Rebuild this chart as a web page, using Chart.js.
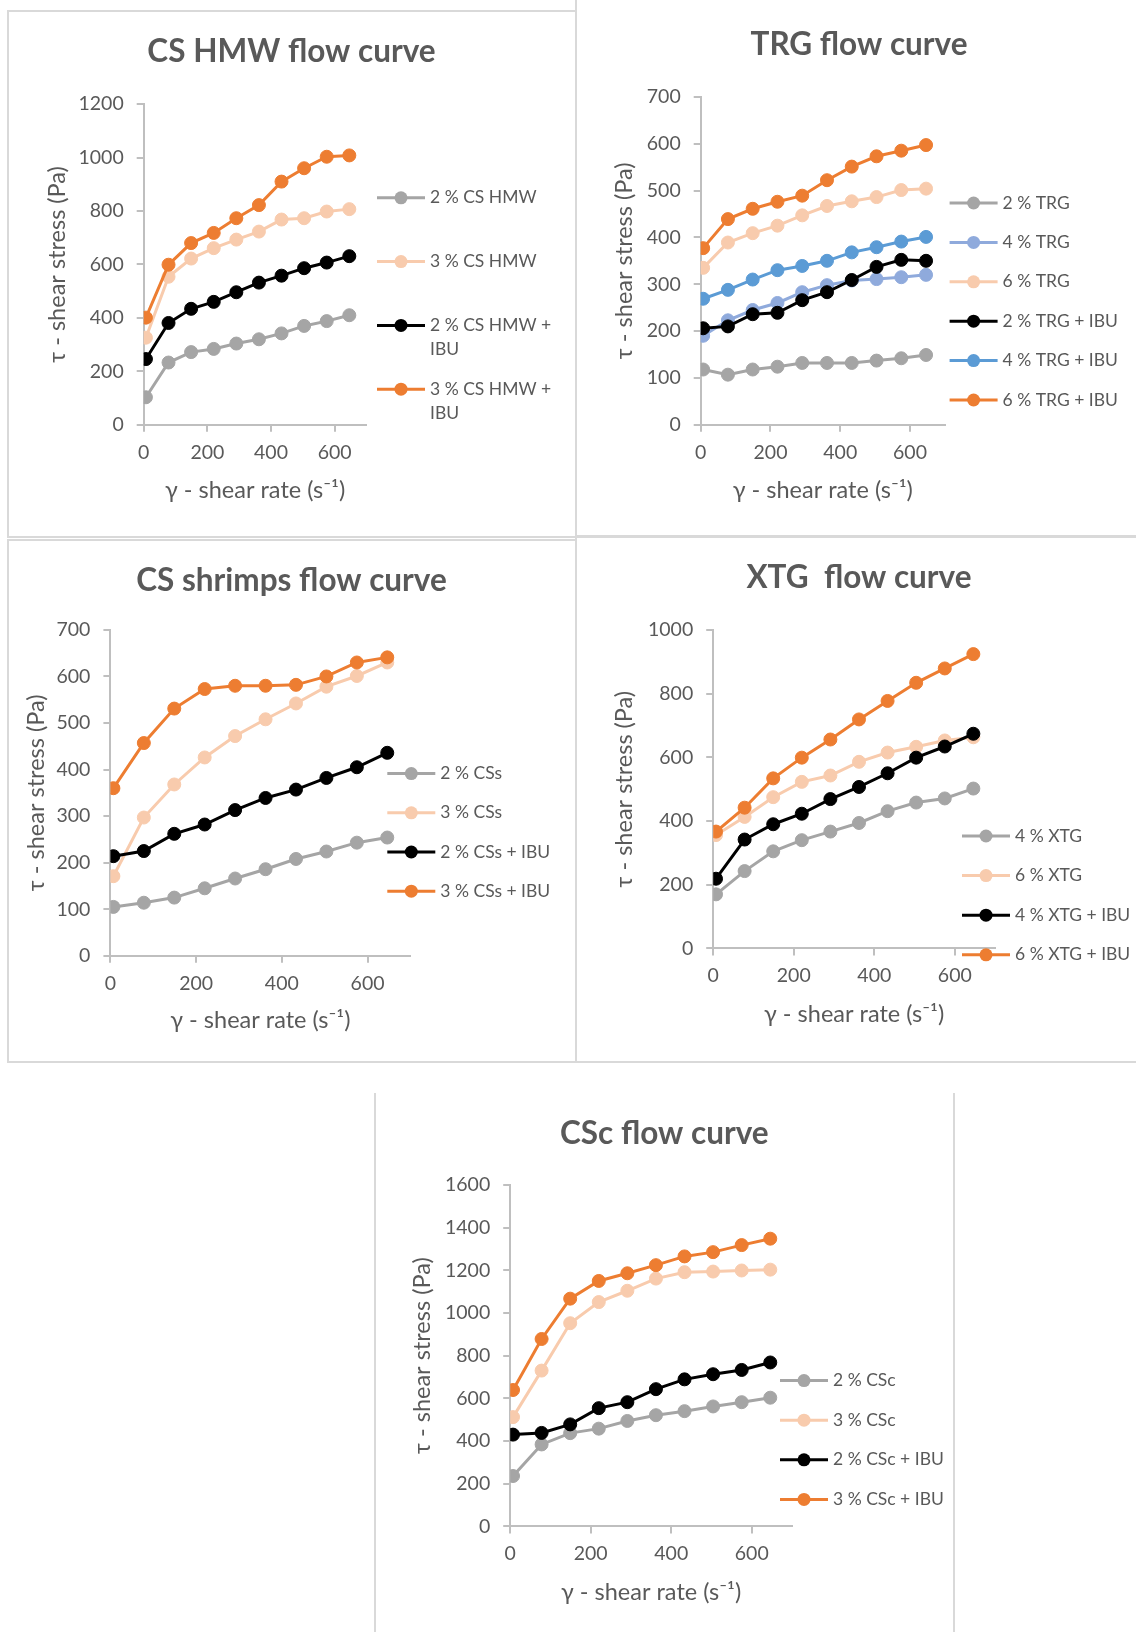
<!DOCTYPE html>
<html>
<head>
<meta charset="utf-8">
<title>Flow curves</title>
<script src="https://cdn.jsdelivr.net/npm/chart.js@4.4.1/dist/chart.umd.min.js"></script>
<style>
  html, body { margin: 0; padding: 0; background: #fff; }
  body { width: 1136px; height: 1632px; position: relative; overflow: hidden; }
  .frame { position: absolute; border: 2px solid #D9D9D9; box-sizing: border-box; }
  canvas { position: absolute; left: 0; top: 0; }
</style>
</head>
<body>
<div class="frame" style="left:7px;top:10px;width:570px;height:528px"></div>
<div class="frame" style="left:575px;top:-4px;width:570px;height:541px"></div>
<div class="frame" style="left:7px;top:539px;width:570px;height:524px"></div>
<div class="frame" style="left:575px;top:536px;width:570px;height:527px"></div>
<div class="frame" style="left:374px;top:1093px;width:581px;height:560px;border-top:none"></div>

<canvas id="cHmw" width="1136" height="1632"></canvas>
<canvas id="cTrg" width="1136" height="1632"></canvas>
<canvas id="cShrimp" width="1136" height="1632"></canvas>
<canvas id="cXtg" width="1136" height="1632"></canvas>
<canvas id="cCsc" width="1136" height="1632"></canvas>

<script>
// shear rate (s-1), same for every curve
var shearRate = [7, 78, 149, 220, 291, 362, 433, 504, 575, 646]
var shearTicks = [0, 200, 400, 600]
var shearMax = 700

// CS HMW
var hmwNames = ["2 % CS HMW", "3 % CS HMW", "2 % CS HMW + IBU", "3 % CS HMW + IBU"]
var hmw2 = [103, 233, 272, 284, 304, 320, 342, 370, 388, 410]
var hmw3 = [326, 554, 622, 661, 693, 723, 768, 773, 798, 807]
var hmw2Ibu = [246, 381, 434, 460, 496, 532, 558, 586, 607, 631]
var hmw3Ibu = [401, 599, 680, 718, 773, 822, 910, 960, 1003, 1008]
var hmwTicks = [0, 200, 400, 600, 800, 1000, 1200]

// TRG
var trgNames = ["2 % TRG", "4 % TRG", "6 % TRG", "2 % TRG + IBU", "4 % TRG + IBU", "6 % TRG + IBU"]
var trg2 = [118, 107, 118, 124, 132, 132, 132, 137, 142, 149]
var trg4 = [190, 223, 245, 260, 283, 298, 308, 311, 315, 320]
var trg6 = [335, 389, 409, 425, 447, 467, 477, 486, 501, 504]
var trg2Ibu = [206, 210, 236, 239, 266, 283, 309, 337, 352, 350]
var trg4Ibu = [269, 288, 310, 330, 339, 350, 368, 379, 391, 401]
var trg6Ibu = [377, 439, 461, 476, 489, 522, 551, 573, 585, 597]
var trgTicks = [0, 100, 200, 300, 400, 500, 600, 700]

// CS shrimps
var cssNames = ["2 % CSs", "3 % CSs", "2 % CSs + IBU", "3 % CSs + IBU"]
var css2 = [105, 114, 125, 145, 166, 186, 208, 224, 243, 254]
var css3 = [171, 297, 368, 426, 472, 508, 542, 578, 601, 630]
var css2Ibu = [214, 225, 262, 282, 313, 339, 357, 382, 405, 436]
var css3Ibu = [360, 457, 531, 573, 580, 580, 582, 600, 630, 641]
var cssTicks = [0, 100, 200, 300, 400, 500, 600, 700]

// XTG
var xtgNames = ["4 % XTG", "6 % XTG", "4 % XTG + IBU", "6 % XTG + IBU"]
var xtg4 = [170, 243, 305, 340, 367, 394, 431, 458, 471, 502]
var xtg6 = [356, 413, 475, 523, 543, 586, 615, 633, 653, 663]
var xtg4Ibu = [219, 342, 390, 423, 469, 507, 550, 599, 634, 674]
var xtg6Ibu = [367, 442, 534, 599, 656, 719, 777, 834, 879, 924]
var xtgTicks = [0, 200, 400, 600, 800, 1000]

// CSc
var cscNames = ["2 % CSc", "3 % CSc", "2 % CSc + IBU", "3 % CSc + IBU"]
var csc2 = [236, 384, 437, 458, 494, 521, 540, 562, 582, 603]
var csc3 = [512, 730, 952, 1051, 1104, 1161, 1191, 1194, 1199, 1203]
var csc2Ibu = [430, 438, 478, 554, 582, 643, 689, 713, 733, 768]
var csc3Ibu = [639, 878, 1067, 1150, 1186, 1224, 1265, 1285, 1318, 1348]
var cscTicks = [0, 200, 400, 600, 800, 1000, 1200, 1400, 1600]

var GRAY = "#A5A5A5", PEACH = "#F8CBAD", BLACK = "#000000", ORANGE = "#ED7D31"
var LIGHTBLUE = "#8FAADC", BLUE = "#5B9BD5"
var TEXT = "#595959", AXIS = "#BFBFBF"
var AXIS_TITLE = 23.5
var HALF_LH = AXIS_TITLE * 1.2 / 2

Chart.defaults.font.family = "Lato, 'Open Sans', sans-serif"
Chart.defaults.color = TEXT

function wrapText(ctx, text, maxWidth) {
    var words = text.split(" ")
    var lines = []
    var line = ""
    for (var i = 0; i < words.length; i++) {
        var test = line ? line + " " + words[i] : words[i]
        if (line && ctx.measureText(test).width > maxWidth) {
            lines.push(line)
            line = words[i]
        } else {
            line = test
        }
    }
    lines.push(line)
    return lines
}

// title and legend, Excel style
var panelText = {
    id: "panelText",
    afterDraw(chart, args, opts) {
        var ctx = chart.ctx
        ctx.save()
        ctx.fillStyle = TEXT
        ctx.font = "bold 31.5px Lato"
        ctx.textAlign = "center"
        ctx.textBaseline = "middle"
        ctx.fillText(opts.title, opts.titleX, opts.titleY)

        ctx.font = "17.5px Lato"
        ctx.textAlign = "left"
        chart.data.datasets.forEach(function (ds, i) {
            var x = opts.legendX
            var y = opts.legendY + i * opts.legendStep
            ctx.strokeStyle = ds.borderColor
            ctx.lineWidth = 3
            ctx.beginPath()
            ctx.moveTo(x, y)
            ctx.lineTo(x + 48, y)
            ctx.stroke()
            ctx.fillStyle = ds.borderColor
            ctx.beginPath()
            ctx.arc(x + 24, y, 6.5, 0, Math.PI * 2)
            ctx.fill()
            ctx.fillStyle = TEXT
            wrapText(ctx, ds.label, opts.legendWidth || 400).forEach(function (line, k) {
                ctx.fillText(line, x + 53, y + k * 24)
            })
        })
        ctx.restore()
    }
}

function plain(v) { return String(v) }

function flowChart(id, names, series, colors, yTicks, box) {
    var datasets = series.map(function (values, i) {
        return {
            label: names[i],
            data: values.map(function (v, j) { return { x: shearRate[j], y: v } }),
            borderColor: colors[i],
            backgroundColor: colors[i],
            pointBackgroundColor: colors[i],
            pointBorderColor: colors[i],
            borderWidth: 3,
            pointRadius: 6.5,
            pointBorderWidth: 1,
            tension: 0,
            order: series.length - i
        }
    })
    var padLeft = box.yTitleX - HALF_LH
    var padBottom = 1632 - (box.xTitleY + HALF_LH)

    new Chart(document.getElementById(id), {
        type: "line",
        data: { datasets: datasets },
        plugins: [panelText],
        options: {
            responsive: false,
            animation: false,
            events: [],
            layout: {
                autoPadding: false,
                padding: { left: padLeft, top: box.top, right: 1136 - box.right, bottom: padBottom }
            },
            plugins: {
                legend: { display: false },
                tooltip: { enabled: false },
                title: { display: false },
                panelText: box.text
            },
            scales: {
                x: {
                    type: "linear",
                    min: 0,
                    max: shearMax,
                    afterBuildTicks: function (s) { s.ticks = shearTicks.map(function (v) { return { value: v } }) },
                    afterFit: function (s) { s.height = box.xTitleY + HALF_LH - box.bottom },
                    grid: { drawOnChartArea: false, drawTicks: true, tickLength: 7, color: AXIS, lineWidth: 2 },
                    border: { color: AXIS, width: 2 },
                    ticks: { font: { size: 19.5 }, color: TEXT, padding: 9, maxRotation: 0, callback: plain },
                    title: { display: true, text: "γ - shear rate (s⁻¹)", font: { size: AXIS_TITLE }, color: TEXT, padding: 0 }
                },
                y: {
                    min: yTicks[0],
                    max: yTicks[yTicks.length - 1],
                    afterBuildTicks: function (s) { s.ticks = yTicks.map(function (v) { return { value: v } }) },
                    afterFit: function (s) { s.width = box.left - padLeft },
                    grid: { drawOnChartArea: false, drawTicks: true, tickLength: 7, color: AXIS, lineWidth: 2 },
                    border: { color: AXIS, width: 2 },
                    ticks: { font: { size: 19.5 }, color: TEXT, padding: 13, callback: plain },
                    title: { display: true, text: "τ - shear stress (Pa)", font: { size: AXIS_TITLE }, color: TEXT, padding: 0 }
                }
            }
        }
    })
}

flowChart("cHmw", hmwNames, [hmw2, hmw3, hmw2Ibu, hmw3Ibu], [GRAY, PEACH, BLACK, ORANGE], hmwTicks, {
    left: 143.7, right: 366.5, top: 104.1, bottom: 424.8, yTitleX: 57.3, xTitleY: 490.4,
    text: { title: "CS HMW flow curve", titleX: 291.5, titleY: 52, legendX: 377, legendY: 197.8, legendStep: 63.8, legendWidth: 135 }
})

flowChart("cTrg", trgNames, [trg2, trg4, trg6, trg2Ibu, trg4Ibu, trg6Ibu], [GRAY, LIGHTBLUE, PEACH, BLACK, BLUE, ORANGE], trgTicks, {
    left: 700.7, right: 944.9, top: 96.8, bottom: 424.8, yTitleX: 624.7, xTitleY: 490.4,
    text: { title: "TRG flow curve", titleX: 859, titleY: 44.8, legendX: 949.6, legendY: 203, legendStep: 39.4 }
})

flowChart("cShrimp", cssNames, [css2, css3, css2Ibu, css3Ibu], [GRAY, PEACH, BLACK, ORANGE], cssTicks, {
    left: 110.4, right: 410.4, top: 629.9, bottom: 955.8, yTitleX: 36.4, xTitleY: 1020.4,
    text: { title: "CS shrimps flow curve", titleX: 291.5, titleY: 581, legendX: 387.3, legendY: 773.6, legendStep: 39.2 }
})

flowChart("cXtg", xtgNames, [xtg4, xtg6, xtg4Ibu, xtg6Ibu], [GRAY, PEACH, BLACK, ORANGE], xtgTicks, {
    left: 713.2, right: 995.1, top: 629.9, bottom: 948.5, yTitleX: 624.7, xTitleY: 1014.1,
    text: { title: "XTG  flow curve", titleX: 859, titleY: 577.9, legendX: 962, legendY: 836, legendStep: 39.6 }
})

flowChart("cCsc", cscNames, [csc2, csc3, csc2Ibu, csc3Ibu], [GRAY, PEACH, BLACK, ORANGE], cscTicks, {
    left: 510.2, right: 792, top: 1184.9, bottom: 1526.4, yTitleX: 422.7, xTitleY: 1592,
    text: { title: "CSc flow curve", titleX: 664.3, titleY: 1133.9, legendX: 780, legendY: 1380.6, legendStep: 39.6 }
})
</script>
</body>
</html>
